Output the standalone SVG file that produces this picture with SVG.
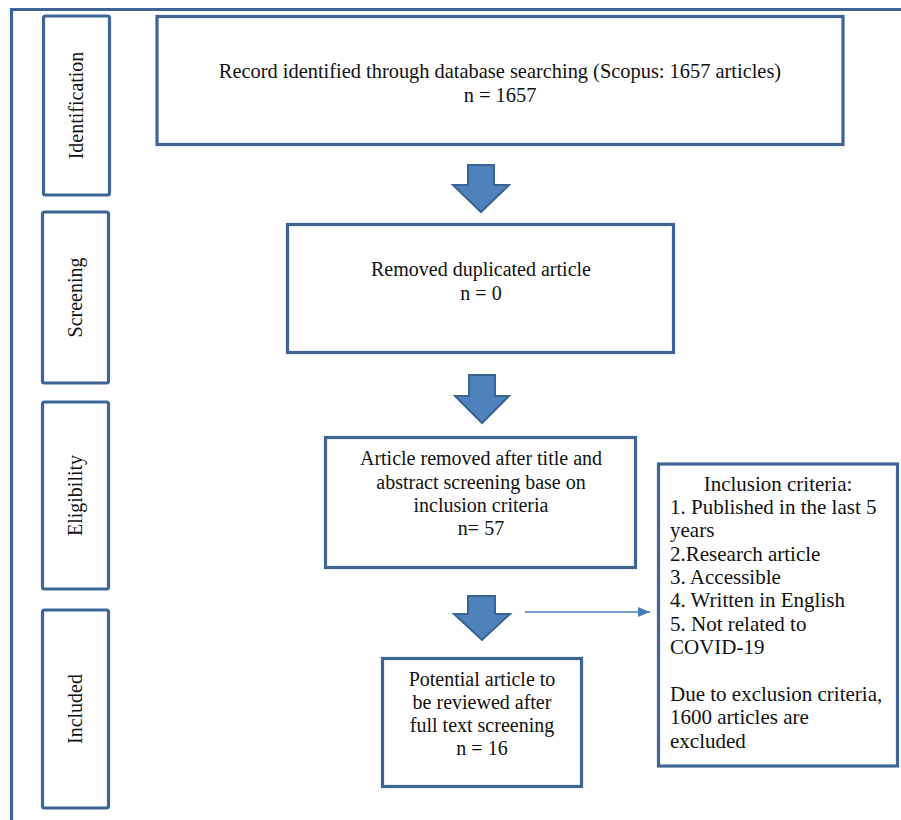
<svg xmlns="http://www.w3.org/2000/svg" width="901" height="820" viewBox="0 0 901 820">
<style>
.box{fill:#fff;stroke:#3e6596;stroke-width:3.2}
.t{font-family:"Liberation Serif","Times New Roman",serif;font-size:20px;fill:#111}
.c{text-anchor:middle}
.k{font-size:21px}
.arr{fill:#4f81bd;stroke:#3a6494;stroke-width:2;stroke-linejoin:miter}
</style>
<defs>
<marker id="ah" viewBox="0 0 12 10" refX="12" refY="5" markerWidth="12" markerHeight="10" markerUnits="userSpaceOnUse" orient="auto">
<path d="M0,0 L12,5 L0,10 Z" fill="#4a7ebb"/>
</marker>
</defs>
<rect width="901" height="820" fill="#fff"/>
<g id="frame">
<path d="M11.5,820 V9.5 H901" fill="none" stroke="#3e6596" stroke-width="3.2"/>
</g>
<g id="stage-identification">
<rect class="box" x="43.5" y="16" width="66" height="179" rx="2"/>
<text class="t c" transform="translate(83,105.5) rotate(-90)">Identification</text>
</g>
<g id="stage-screening">
<rect class="box" x="42.5" y="212" width="66" height="171" rx="2"/>
<text class="t c" transform="translate(82,297.5) rotate(-90)">Screening</text>
</g>
<g id="stage-eligibility">
<rect class="box" x="42.5" y="402" width="66" height="187" rx="2"/>
<text class="t c" transform="translate(82,495.5) rotate(-90)">Eligibility</text>
</g>
<g id="stage-included">
<rect class="box" x="42.5" y="610" width="66" height="198" rx="2"/>
<text class="t c" transform="translate(82,709) rotate(-90)">Included</text>
</g>
<g id="identified">
<rect class="box" x="157" y="16.5" width="686" height="128"/>
<text class="t c" x="500" y="78" style="font-size:20.4px">Record identified through database searching (Scopus: 1657 articles)</text>
<text class="t c" x="500" y="102" style="font-size:20.4px">n = 1657</text>
</g>
<g id="duplicates">
<rect class="box" x="287.5" y="224.5" width="386" height="128"/>
<text class="t c" x="481" y="276">Removed duplicated article</text>
<text class="t c" x="481" y="300">n = 0</text>
</g>
<g id="screened">
<rect class="box" x="325.5" y="437.5" width="310" height="130"/>
<text class="t c" x="481" y="465">Article removed after title and</text>
<text class="t c" x="481" y="489">abstract screening base on</text>
<text class="t c" x="481" y="512">inclusion criteria</text>
<text class="t c" x="481" y="535">n= 57</text>
</g>
<g id="included">
<rect class="box" x="382.5" y="658.5" width="199" height="128"/>
<text class="t c" x="482" y="686">Potential article to</text>
<text class="t c" x="482" y="709">be reviewed after</text>
<text class="t c" x="482" y="732">full text screening</text>
<text class="t c" x="482" y="755">n = 16</text>
</g>
<g id="criteria">
<rect class="box" x="658.5" y="464" width="239" height="302"/>
<text class="t c k" x="778" y="491">Inclusion criteria:</text>
<text class="t k" x="670" y="514">1. Published in the last 5</text>
<text class="t k" x="670" y="537">years</text>
<text class="t k" x="670" y="561">2.Research article</text>
<text class="t k" x="670" y="584">3. Accessible</text>
<text class="t k" x="670" y="607">4. Written in English</text>
<text class="t k" x="670" y="631">5. Not related to</text>
<text class="t k" x="670" y="654">COVID-19</text>
<text class="t k" x="670" y="701">Due to exclusion criteria,</text>
<text class="t k" x="670" y="724">1600 articles are</text>
<text class="t k" x="670" y="748">excluded</text>
</g>
<g id="connectors">
<path class="arr" d="M468,165 H494 V185 H509 L481,212 L453,185 H468 Z"/>
<path class="arr" d="M469,375 H495 V396 H509 L482,423 L455,396 H469 Z"/>
<path class="arr" d="M468,596 H495 V614 H510 L482,640 L454,614 H468 Z"/>
<line x1="525" y1="612" x2="650" y2="612" stroke="#4a7ebb" stroke-width="1.3" marker-end="url(#ah)"/>
</g>
</svg>
